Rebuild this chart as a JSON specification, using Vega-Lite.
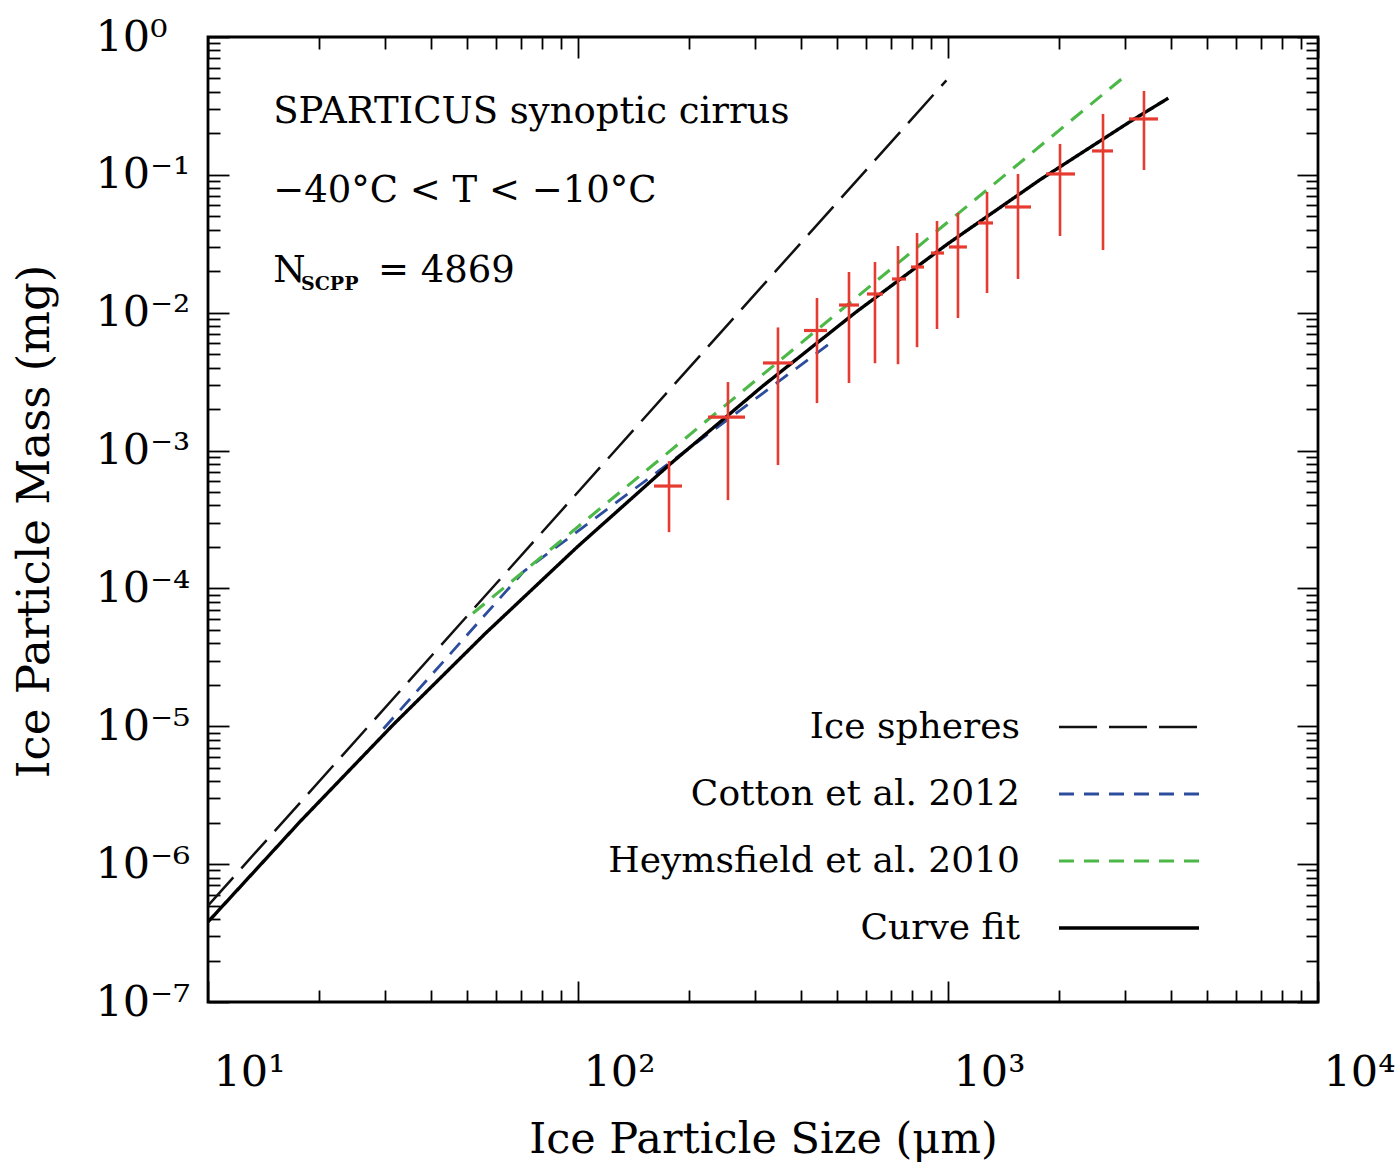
{
  "$schema": "https://vega.github.io/schema/vega-lite/v6.json",
  "width": 1110,
  "height": 965,
  "autosize": {"type": "none"},
  "padding": {"left": 208, "top": 37, "right": 78, "bottom": 162},
  "background": "white",
  "config": {
    "font": "DejaVu Serif",
    "view": {"stroke": "black", "strokeWidth": 2.8},
    "axis": {
      "grid": false,
      "domain": false,
      "tickColor": "black",
      "tickWidth": 1.8,
      "labelColor": "black",
      "titleColor": "black",
      "labelFont": "DejaVu Serif",
      "titleFont": "DejaVu Serif",
      "titleFontWeight": "normal",
      "labelOverlap": false,
      "labelFlush": false,
      "labelBound": false
    },
    "legend": {
      "orient": "none",
      "legendX": 903,
      "legendY": 672,
      "padding": 0,
      "symbolType": "M-5,0H5",
      "symbolSize": 784,
      "symbolStrokeWidth": 3,
      "labelFont": "DejaVu Serif",
      "labelFontSize": 36,
      "labelColor": "black",
      "labelAlign": "right",
      "labelOffset": -127,
      "labelLimit": 0,
      "rowPadding": 31
    }
  },
  "datasets": {
    "curves": [
      {"series": "Ice spheres", "D": 10, "m": 5.0e-7},
      {"series": "Ice spheres", "D": 990, "m": 0.485},
      {"series": "Cotton et al. 2012", "D": 29.8, "m": 9.6e-6},
      {"series": "Cotton et al. 2012", "D": 71.4, "m": 1.33e-4},
      {"series": "Cotton et al. 2012", "D": 490, "m": 6.26e-3},
      {"series": "Heymsfield et al. 2010", "D": 52, "m": 6.6e-5},
      {"series": "Heymsfield et al. 2010", "D": 2990, "m": 0.513},
      {"series": "Curve fit", "D": 10, "m": 3.81e-7},
      {"series": "Curve fit", "D": 17.78, "m": 2.05e-6},
      {"series": "Curve fit", "D": 31.62, "m": 1.023e-5},
      {"series": "Curve fit", "D": 56.23, "m": 4.725e-5},
      {"series": "Curve fit", "D": 100, "m": 2.023e-4},
      {"series": "Curve fit", "D": 177.8, "m": 8.02e-4},
      {"series": "Curve fit", "D": 316.2, "m": 2.949e-3},
      {"series": "Curve fit", "D": 562.3, "m": 1.004e-2},
      {"series": "Curve fit", "D": 1000, "m": 0.0317},
      {"series": "Curve fit", "D": 1778, "m": 0.0926},
      {"series": "Curve fit", "D": 3162, "m": 0.251},
      {"series": "Curve fit", "D": 3939, "m": 0.36}
    ],
    "bins": [
      {"D": 176.2, "Dlo": 160.5, "Dhi": 191.0, "m": 5.53e-4, "mlo": 2.56e-4, "mhi": 8.39e-4},
      {"D": 254.3, "Dlo": 224.6, "Dhi": 282.7, "m": 1.75e-3, "mlo": 4.37e-4, "mhi": 3.14e-3},
      {"D": 347.1, "Dlo": 316.2, "Dhi": 381.1, "m": 4.32e-3, "mlo": 7.85e-4, "mhi": 7.82e-3},
      {"D": 442.5, "Dlo": 408.2, "Dhi": 471.0, "m": 7.43e-3, "mlo": 2.21e-3, "mhi": 1.279e-2},
      {"D": 540.0, "Dlo": 507.6, "Dhi": 574.7, "m": 1.137e-2, "mlo": 3.09e-3, "mhi": 1.974e-2},
      {"D": 634.8, "Dlo": 604.0, "Dhi": 667.3, "m": 1.367e-2, "mlo": 4.30e-3, "mhi": 2.333e-2},
      {"D": 732.6, "Dlo": 705.9, "Dhi": 770.0, "m": 1.756e-2, "mlo": 4.23e-3, "mhi": 3.049e-2},
      {"D": 824.8, "Dlo": 794.3, "Dhi": 861.3, "m": 2.146e-2, "mlo": 5.62e-3, "mhi": 3.789e-2},
      {"D": 933.9, "Dlo": 899.7, "Dhi": 975.4, "m": 2.71e-2, "mlo": 7.62e-3, "mhi": 4.628e-2},
      {"D": 1064, "Dlo": 1006, "Dhi": 1125, "m": 2.998e-2, "mlo": 9.15e-3, "mhi": 5.29e-2},
      {"D": 1275, "Dlo": 1205, "Dhi": 1323, "m": 4.477e-2, "mlo": 1.39e-2, "mhi": 7.513e-2},
      {"D": 1546, "Dlo": 1426, "Dhi": 1676, "m": 5.848e-2, "mlo": 1.756e-2, "mhi": 0.1015},
      {"D": 2008, "Dlo": 1840, "Dhi": 2204, "m": 0.1015, "mlo": 3.602e-2, "mhi": 0.1676},
      {"D": 2624, "Dlo": 2450, "Dhi": 2792, "m": 0.1491, "mlo": 2.851e-2, "mhi": 0.2766},
      {"D": 3386, "Dlo": 3084, "Dhi": 3694, "m": 0.2544, "mlo": 0.1085, "mhi": 0.4064}
    ]
  },
  "layer": [
    {
      "data": {"name": "curves"},
      "mark": {"type": "line", "clip": true},
      "encoding": {
        "x": {
          "field": "D", "type": "quantitative",
          "scale": {"type": "log", "domain": [10, 10000], "nice": false},
          "axis": {
            "orient": "bottom",
            "values": [10,20,30,40,50,60,70,80,90,100,200,300,400,500,600,700,800,900,1000,2000,3000,4000,5000,6000,7000,8000,9000,10000],
            "tickSize": {"condition": {"test": "abs(log(datum.value)/LN10 - round(log(datum.value)/LN10)) < 0.001", "value": -21}, "value": -12},
            "labelExpr": "abs(log(datum.value)/LN10 - round(log(datum.value)/LN10)) < 0.001 ? '10' + ['¹','²','³','⁴'][round(log(datum.value)/LN10)-1] : ''",
            "labelFontSize": 43,
            "labelAlign": "left",
            "labelBaseline": "alphabetic",
            "labelPadding": 104,
            "labelOffset": 5,
            "title": "Ice Particle Size (μm)",
            "titleFontSize": 43,
            "titleX": 555,
            "titleY": 150,
            "titleAlign": "center",
            "titleBaseline": "alphabetic"
          }
        },
        "y": {
          "field": "m", "type": "quantitative",
          "scale": {"type": "log", "domain": [1e-7, 1], "nice": false},
          "axis": {
            "orient": "left",
            "values": [1e-7,2e-7,3e-7,4e-7,5e-7,6e-7,7e-7,8e-7,9e-7,1e-6,2e-6,3e-6,4e-6,5e-6,6e-6,7e-6,8e-6,9e-6,1e-5,2e-5,3e-5,4e-5,5e-5,6e-5,7e-5,8e-5,9e-5,1e-4,2e-4,3e-4,4e-4,5e-4,6e-4,7e-4,8e-4,9e-4,1e-3,2e-3,3e-3,4e-3,5e-3,6e-3,7e-3,8e-3,9e-3,1e-2,2e-2,3e-2,4e-2,5e-2,6e-2,7e-2,8e-2,9e-2,0.1,0.2,0.3,0.4,0.5,0.6,0.7,0.8,0.9,1],
            "tickSize": {"condition": {"test": "abs(log(datum.value)/LN10 - round(log(datum.value)/LN10)) < 0.001", "value": -21}, "value": -12},
            "labelExpr": "abs(log(datum.value)/LN10 - round(log(datum.value)/LN10)) < 0.001 ? '10' + ['⁻⁷','⁻⁶','⁻⁵','⁻⁴','⁻³','⁻²','⁻¹','⁰'][round(log(datum.value)/LN10)+7] : ''",
            "labelFontSize": 43,
            "labelAlign": "left",
            "labelBaseline": "middle",
            "labelPadding": 134,
            "title": "Ice Particle Mass (mg)",
            "titleFontSize": 45,
            "titleAngle": 270,
            "titleX": -160,
            "titleY": 484,
            "titleAlign": "center",
            "titleBaseline": "alphabetic"
          }
        },
        "color": {
          "field": "series", "type": "nominal",
          "scale": {"domain": ["Ice spheres", "Cotton et al. 2012", "Heymsfield et al. 2010", "Curve fit"], "range": ["#111111", "#2c4c9e", "#4cb847", "#000000"]},
          "legend": {"title": null}
        },
        "strokeDash": {
          "field": "series", "type": "nominal",
          "scale": {"domain": ["Ice spheres", "Cotton et al. 2012", "Heymsfield et al. 2010", "Curve fit"], "range": [[38, 12], [15, 10], [15, 10], [1, 0]]},
          "legend": {"title": null}
        },
        "strokeWidth": {
          "field": "series", "type": "nominal",
          "scale": {"domain": ["Ice spheres", "Cotton et al. 2012", "Heymsfield et al. 2010", "Curve fit"], "range": [2.5, 3.4, 3.4, 3.6]},
          "legend": null
        }
      }
    },
    {
      "data": {"name": "bins"},
      "mark": {"type": "rule", "color": "#e63b30", "strokeWidth": 2.6},
      "encoding": {
        "x": {
          "field": "D", "type": "quantitative",
          "axis": {
            "orient": "top",
            "values": [10,20,30,40,50,60,70,80,90,100,200,300,400,500,600,700,800,900,1000,2000,3000,4000,5000,6000,7000,8000,9000,10000],
            "tickSize": {"condition": {"test": "abs(log(datum.value)/LN10 - round(log(datum.value)/LN10)) < 0.001", "value": -21}, "value": -12},
            "labels": false,
            "title": null
          }
        },
        "y": {
          "field": "mlo", "type": "quantitative",
          "axis": {
            "orient": "right",
            "values": [1e-7,2e-7,3e-7,4e-7,5e-7,6e-7,7e-7,8e-7,9e-7,1e-6,2e-6,3e-6,4e-6,5e-6,6e-6,7e-6,8e-6,9e-6,1e-5,2e-5,3e-5,4e-5,5e-5,6e-5,7e-5,8e-5,9e-5,1e-4,2e-4,3e-4,4e-4,5e-4,6e-4,7e-4,8e-4,9e-4,1e-3,2e-3,3e-3,4e-3,5e-3,6e-3,7e-3,8e-3,9e-3,1e-2,2e-2,3e-2,4e-2,5e-2,6e-2,7e-2,8e-2,9e-2,0.1,0.2,0.3,0.4,0.5,0.6,0.7,0.8,0.9,1],
            "tickSize": {"condition": {"test": "abs(log(datum.value)/LN10 - round(log(datum.value)/LN10)) < 0.001", "value": -21}, "value": -12},
            "labels": false,
            "title": null
          }
        },
        "y2": {"field": "mhi"}
      }
    },
    {
      "data": {"name": "bins"},
      "mark": {"type": "rule", "color": "#e63b30", "strokeWidth": 3.2},
      "encoding": {
        "x": {"field": "Dlo", "type": "quantitative", "axis": null},
        "x2": {"field": "Dhi"},
        "y": {"field": "m", "type": "quantitative", "axis": null}
      }
    },
    {
      "data": {"values": [{}]},
      "mark": {"type": "text", "align": "left", "baseline": "alphabetic", "fontSize": 37, "font": "DejaVu Serif", "color": "black"},
      "encoding": {
        "x": {"datum": 15, "type": "quantitative", "axis": null},
        "y": {"datum": 0.238, "type": "quantitative", "axis": null},
        "text": {"value": "SPARTICUS synoptic cirrus"}
      }
    },
    {
      "data": {"values": [{}]},
      "mark": {"type": "text", "align": "left", "baseline": "alphabetic", "fontSize": 37, "font": "DejaVu Serif", "color": "black"},
      "encoding": {
        "x": {"datum": 15, "type": "quantitative", "axis": null},
        "y": {"datum": 0.0636, "type": "quantitative", "axis": null},
        "text": {"value": "−40°C < T < −10°C"}
      }
    },
    {
      "data": {"values": [{}]},
      "mark": {"type": "text", "align": "left", "baseline": "alphabetic", "fontSize": 37, "font": "DejaVu Serif", "color": "black"},
      "encoding": {
        "x": {"datum": 15, "type": "quantitative", "axis": null},
        "y": {"datum": 0.0167, "type": "quantitative", "axis": null},
        "text": {"value": "N"}
      }
    },
    {
      "data": {"values": [{}]},
      "mark": {"type": "text", "align": "left", "baseline": "alphabetic", "fontSize": 19, "fontWeight": "bold", "font": "DejaVu Serif", "color": "black"},
      "encoding": {
        "x": {"datum": 17.84, "type": "quantitative", "axis": null},
        "y": {"datum": 0.01461, "type": "quantitative", "axis": null},
        "text": {"value": "SCPP"}
      }
    },
    {
      "data": {"values": [{}]},
      "mark": {"type": "text", "align": "left", "baseline": "alphabetic", "fontSize": 37, "font": "DejaVu Serif", "color": "black"},
      "encoding": {
        "x": {"datum": 28.8, "type": "quantitative", "axis": null},
        "y": {"datum": 0.0167, "type": "quantitative", "axis": null},
        "text": {"value": "= 4869"}
      }
    }
  ],
  "resolve": {"axis": {"x": "independent", "y": "independent"}}
}
